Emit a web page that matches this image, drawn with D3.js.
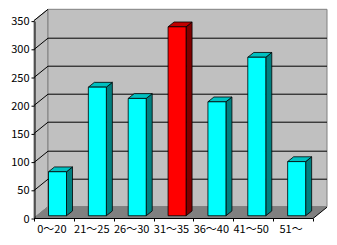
<!DOCTYPE html>
<html>
<head>
<meta charset="utf-8">
<script src="https://cdn.jsdelivr.net/npm/d3@7"></script>
<style>
  body { margin: 0; background: #fff; }
  text { font-family: "Noto Sans CJK JP", sans-serif; font-size: 11px; fill: #000; }
</style>
</head>
<body>
<svg id="chart" width="337" height="245"></svg>
<script>
const categories = ["0～20", "21～25", "26～30", "31～35", "36～40", "41～50", "51～"];
const values = [78, 228, 208, 335, 202, 281, 96];
const highlight = ["31～35"];
const yTicks = [0, 50, 100, 150, 200, 250, 300, 350];

const svg = d3.select("#chart");

// 3D depth offset of the back wall
const DX = 14, DY = -11.3;
const plotLeft = 34, plotRight = 313, plotBottom = 218, plotTop = 20.6;

const x = d3.scaleBand().domain(categories).range([plotLeft, plotRight]).padding(0);
const y = d3.scaleLinear().domain([0, 350]).range([plotBottom, plotTop]);

const pts = a => a.map(p => p.join(",")).join(" ");

// left side wall
svg.append("polygon")
    .attr("points", pts([[plotLeft, y(350)], [plotLeft + DX, y(350) + DY], [plotLeft + DX, y(0) + DY], [plotLeft, y(0)]]))
    .attr("fill", "#c0c0c0").attr("stroke", "#808080");

// back wall
svg.append("polygon")
    .attr("points", pts([[plotLeft + DX, y(350) + DY], [plotRight + DX, y(350) + DY], [plotRight + DX, y(0) + DY], [plotLeft + DX, y(0) + DY]]))
    .attr("fill", "#c0c0c0").attr("stroke", "#808080");

// floor
svg.append("polygon")
    .attr("points", pts([[plotLeft, y(0)], [plotRight, y(0)], [plotRight + DX, y(0) + DY], [plotLeft + DX, y(0) + DY]]))
    .attr("fill", "#808080").attr("stroke", "#808080");

// gridlines: diagonal on side wall + horizontal on back wall
const grid = svg.append("g").attr("stroke", "#000").attr("stroke-width", 1).attr("fill", "none");
yTicks.filter(t => t > 0 && t < 350).forEach(t => {
    const yy = Math.round(y(t)) + 0.5;
    grid.append("path")
        .attr("d", `M${plotLeft},${yy}L${plotLeft + DX},${yy + DY}L${plotRight + DX},${yy + DY}`);
});
svg.append("line")
    .attr("x1", plotLeft).attr("y1", y(350)).attr("x2", plotLeft + DX).attr("y2", y(350) + DY)
    .attr("stroke", "#000");

// y axis
const yAxis = d3.axisLeft(y).tickValues(yTicks).tickSize(3).tickPadding(2).tickSizeOuter(0);
const yg = svg.append("g").attr("transform", `translate(${plotLeft + 0.5},0.5)`).call(yAxis);
yg.select(".domain").attr("stroke", "#000");
yg.selectAll("text").attr("font-size", 11).attr("font-family", "Noto Sans CJK JP");

// x axis
const xg = svg.append("g").attr("transform", `translate(0,${plotBottom + 0.5})`);
xg.append("line").attr("x1", plotLeft).attr("x2", plotRight).attr("stroke", "#000");
xg.append("line").attr("x1", plotRight).attr("y1", 0).attr("x2", plotRight + DX).attr("y2", DY).attr("stroke", "#000");
categories.concat([null]).forEach((c, i) => {
    const xx = Math.round(plotLeft + i * x.bandwidth()) + 0.5;
    xg.append("line").attr("x1", xx).attr("x2", xx).attr("y1", 0).attr("y2", 3).attr("stroke", "#000");
});
xg.selectAll(".lbl").data(categories).join("text")
    .attr("class", "lbl")
    .attr("x", d => x(d) + x.bandwidth() / 2 - 2)
    .attr("y", 14)
    .attr("text-anchor", "middle")
    .text(d => d);

// bars
const f0 = 0.2;             // depth fraction of bar front
const bdx = 6, bdy = -4.8;  // bar depth
const bw = 18;
const bars = svg.append("g").attr("stroke", "#000").attr("stroke-width", 0.8).attr("stroke-linejoin", "round");
categories.forEach((c, i) => {
    const v = values[i];
    const red = highlight.includes(c);
    const x0 = x(c) + 14.5;
    const x1 = x0 + bw;
    const yb = y(0) + f0 * DY;
    const yt = y(v) + f0 * DY;
    const g = bars.append("g");
    g.append("polygon")
        .attr("points", pts([[x1, yt], [x1 + bdx, yt + bdy], [x1 + bdx, yb + bdy], [x1, yb]]))
        .attr("fill", red ? "#800000" : "#008080");
    g.append("polygon")
        .attr("points", pts([[x0, yt], [x0 + bdx, yt + bdy], [x1 + bdx, yt + bdy], [x1, yt]]))
        .attr("fill", red ? "#c00000" : "#00c0c0");
    g.append("rect")
        .attr("x", x0).attr("y", yt).attr("width", bw).attr("height", yb - yt)
        .attr("fill", red ? "#ff0000" : "#00ffff");
});
</script>
</body>
</html>
